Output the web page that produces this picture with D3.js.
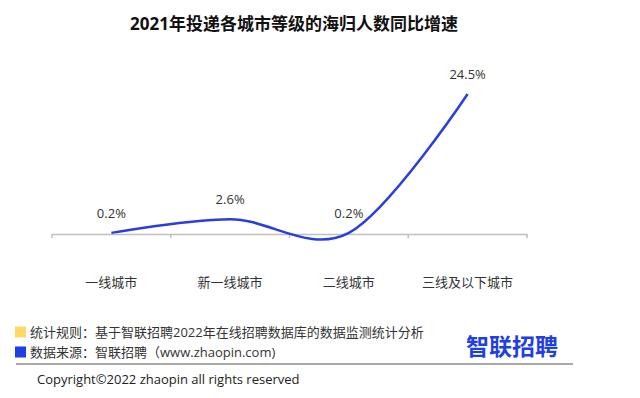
<!DOCTYPE html>
<html>
<head>
<meta charset="utf-8">
<script src="https://cdn.jsdelivr.net/npm/d3@7"></script>
<style>
  body { margin: 0; background: #fff; }
  svg { display: block; font-family: "Open Sans", "Noto Sans CJK SC", sans-serif; }
</style>
</head>
<body>
<div id="chart"></div>
<script>
const width = 640,
  height = 398;

// data
const categories = ["一线城市", "新一线城市", "二线城市", "三线及以下城市"];
const growth = [0.2, 2.6, 0.2, 24.5];
const valueLabels = ["0.2%", "2.6%", "0.2%", "24.5%"];
const notes = [
  { text: "统计规则：基于智联招聘2022年在线招聘数据库的数据监测统计分析", color: "#ffd966" },
  { text: "数据来源：智联招聘（www.zhaopin.com)", color: "#1f3fe6" },
];

const svg = d3
  .select("#chart")
  .append("svg")
  .attr("width", width)
  .attr("height", height);

// title
svg
  .append("text")
  .attr("x", 294)
  .attr("y", 23)
  .attr("text-anchor", "middle")
  .attr("dominant-baseline", "central")
  .style("font-size", "17px")
  .style("font-weight", "bold")
  .style("fill", "#111")
  .text("2021年投递各城市等级的海归人数同比增速");

const x = d3.scaleBand().domain(categories).range([52, 527]);
const y = d3.scaleLinear().domain([0, 30]).range([234, 62.6]);

// axis along zero
const axis = svg
  .append("g")
  .attr("transform", "translate(0," + y(0) + ")")
  .call(d3.axisBottom(x).tickSize(0).tickFormat(""));
axis.select(".domain").attr("stroke", "#bfbfbf").attr("stroke-width", 1.5);

// tick marks at band edges
const edges = categories.map((c) => x(c)).concat([x.range()[1]]);
svg
  .append("g")
  .selectAll("line")
  .data(edges)
  .enter()
  .append("line")
  .attr("x1", (d) => d)
  .attr("x2", (d) => d)
  .attr("y1", y(0))
  .attr("y2", y(0) + 4)
  .attr("stroke", "#bfbfbf")
  .attr("stroke-width", 1.5);

// category labels
svg
  .append("g")
  .selectAll("text")
  .data(categories)
  .enter()
  .append("text")
  .attr("x", (d) => x(d) + x.bandwidth() / 2)
  .attr("y", 282)
  .attr("text-anchor", "middle")
  .attr("dominant-baseline", "central")
  .style("font-size", "13px")
  .style("fill", "#333")
  .text((d) => d);

// smoothed line
const line = d3
  .line()
  .x((d, i) => x(categories[i]) + x.bandwidth() / 2)
  .y((d) => y(d))
  .curve(d3.curveCardinal.tension(0));

svg
  .append("path")
  .datum(growth)
  .attr("d", line)
  .attr("fill", "none")
  .attr("stroke", "#2a3ee0")
  .attr("stroke-width", 2.5);

// value labels
svg
  .append("g")
  .selectAll("text")
  .data(growth)
  .enter()
  .append("text")
  .attr("x", (d, i) => x(categories[i]) + x.bandwidth() / 2)
  .attr("y", (d) => y(d) - 20)
  .attr("text-anchor", "middle")
  .attr("dominant-baseline", "central")
  .style("font-size", "13px")
  .style("fill", "#333")
  .text((d, i) => valueLabels[i]);

// footer notes
const note = svg
  .append("g")
  .selectAll("g")
  .data(notes)
  .enter()
  .append("g")
  .attr("transform", (d, i) => "translate(0," + (332 + i * 20) + ")");

note
  .append("rect")
  .attr("x", 15)
  .attr("y", -5.5)
  .attr("width", 11)
  .attr("height", 11)
  .attr("fill", (d) => d.color);

note
  .append("text")
  .attr("x", 30)
  .attr("dominant-baseline", "central")
  .style("font-size", "13px")
  .style("fill", "#333")
  .text((d) => d.text);

// logo
svg
  .append("text")
  .attr("x", 512)
  .attr("y", 345)
  .attr("text-anchor", "middle")
  .attr("dominant-baseline", "central")
  .style("font-family", "'Noto Sans CJK SC', sans-serif")
  .style("font-size", "23px")
  .style("font-weight", "bold")
  .style("fill", "#1f3fe6")
  .text("智联招聘");

svg
  .append("line")
  .attr("x1", 16)
  .attr("x2", 573)
  .attr("y1", 364)
  .attr("y2", 364)
  .attr("stroke", "#555")
  .attr("stroke-width", 1);

svg
  .append("text")
  .attr("x", 37)
  .attr("y", 379)
  .attr("dominant-baseline", "central")
  .style("font-size", "13px")
  .style("fill", "#222")
  .text("Copyright©2022 zhaopin all rights reserved");
</script>
</body>
</html>
